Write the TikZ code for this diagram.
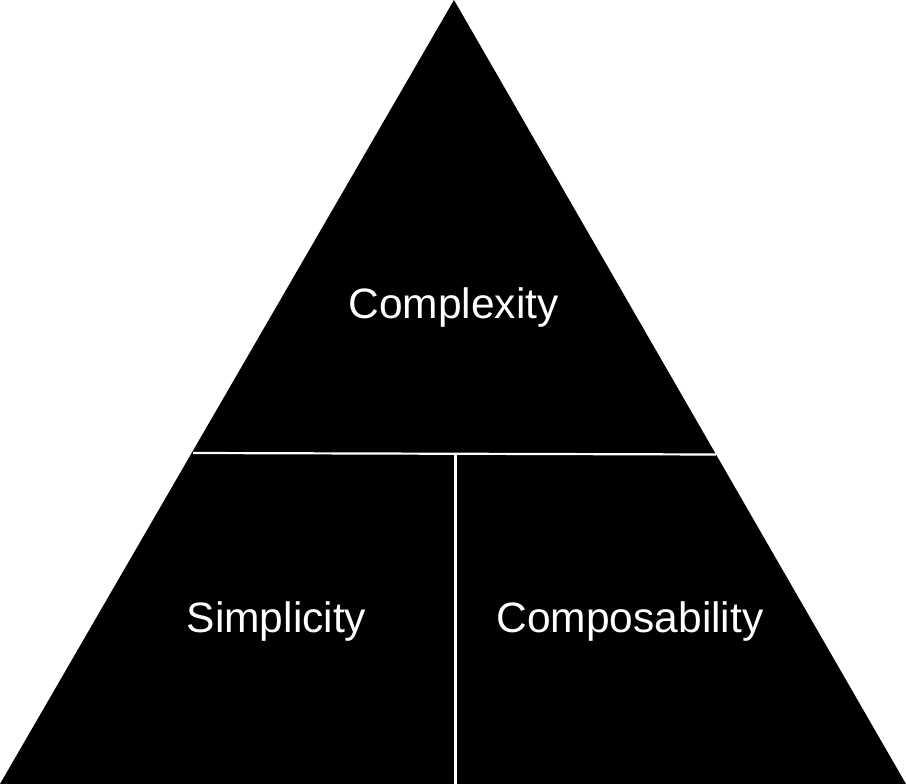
\documentclass[tikz,border=0pt]{standalone}
\usepackage{fontspec}
\setmainfont{Liberation Sans}
\usetikzlibrary{positioning,calc}

\begin{document}
\begin{tikzpicture}[x=1pt,y=-1pt,
    label/.style={text=white, font=\fontsize{42.5}{50}\selectfont, anchor=base},
    divider/.style={draw=white, line width=2.2pt}]
  % pyramid of three parts
  \useasboundingbox (0,0) rectangle (906,784);
  \coordinate (top) at (454,0);
  \coordinate (bl) at (0,784);
  \coordinate (br) at (906,784);
  \fill[black] (top) -- (bl) -- (br) -- cycle;

  \coordinate (cutL) at (193,453);
  \coordinate (cutR) at (716,454.5);
  \coordinate (midT) at (455.5,454);
  \coordinate (midB) at (455.5,784);
  \draw[divider] (cutL) -- (cutR);
  \draw[divider] (midT) -- (midB);

  \node[label] (cplx) at (453.5,318) {Complexity};
  \node[label] (simp) at (276.5,632) {Simplicity};
  \node[label] (comp) at (630,632) {Composability};
\end{tikzpicture}
\end{document}
